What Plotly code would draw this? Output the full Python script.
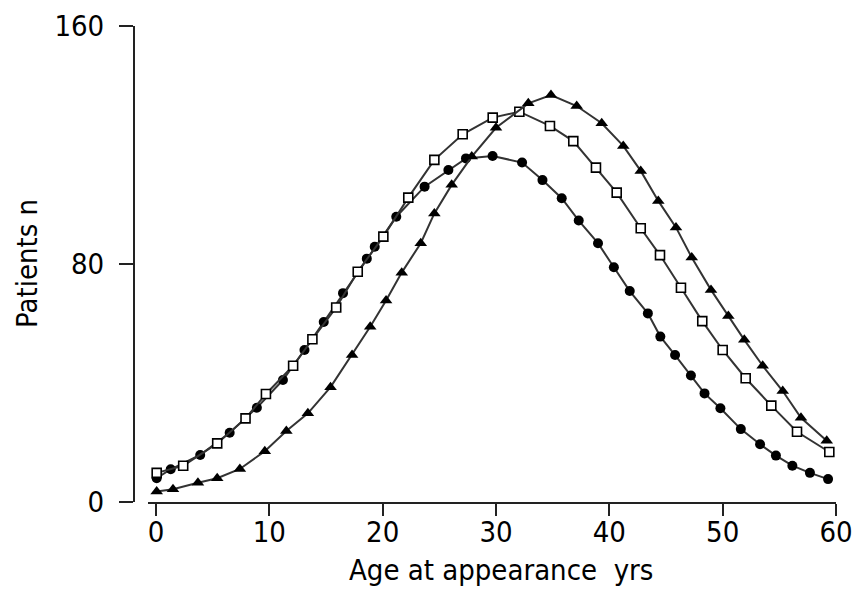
import plotly.graph_objects as go

# ---- data ----
circle_x = [0.06, 1.3, 3.9, 6.5, 8.9, 11.2, 13.1, 14.8, 16.5, 18.6, 19.3, 21.2, 23.7, 25.8, 27.35,
            29.7, 32.3, 34.1, 35.8, 37.3, 39.0, 40.4, 41.8, 43.4, 44.5, 45.8, 47.2, 48.4, 49.8,
            51.6, 53.3, 54.7, 56.15, 57.7, 59.3]
circle_y = [8.0, 11.0, 15.8, 23.3, 31.7, 41.0, 51.1, 60.5, 70.2, 81.8, 85.8, 95.9, 106.0, 111.6, 115.5,
            116.3, 114.1, 108.2, 102.1, 94.6, 87.0, 78.9, 70.9, 63.4, 55.6, 49.4, 42.5, 36.5, 31.5,
            24.5, 19.4, 15.6, 12.2, 9.8, 7.7]

square_x = [0.06, 2.4, 5.4, 7.9, 9.7, 12.1, 13.8, 15.9, 17.8, 20.06, 22.26, 24.56, 27.06, 29.71,
            32.06, 34.76, 36.82, 38.82, 40.65, 42.77, 44.47, 46.32, 48.2, 50.0, 52.03, 54.29,
            56.56, 59.41]
square_y = [9.8, 12.2, 19.7, 28.1, 36.3, 45.8, 54.7, 65.4, 77.4, 89.2, 102.3, 115.0, 123.6, 129.2,
            131.2, 126.4, 121.3, 112.4, 104.0, 92.0, 83.0, 72.0, 60.8, 51.1, 41.6, 32.4,
            23.6, 16.8]

triangle_x = [0.06, 1.5, 3.7, 5.4, 7.4, 9.6, 11.5, 13.4, 15.4, 17.3, 18.9, 20.3, 21.68, 23.36, 24.56,
              26.09, 27.86, 30.0, 32.85, 34.85, 37.12, 39.33, 41.23, 42.77, 44.32, 45.88, 47.27,
              48.97, 50.5, 51.91, 53.53, 55.3, 56.91, 59.18]
triangle_y = [3.5, 4.3, 6.5, 8.0, 11.1, 17.1, 23.9, 29.8, 38.6, 49.4, 58.9, 67.7, 77.1, 87.0, 97.0,
              106.6, 116.1, 125.8, 134.0, 136.8, 133.1, 127.3, 119.7, 111.3, 101.2, 92.3, 82.2,
              71.3, 62.5, 54.5, 45.8, 37.3, 28.3, 20.6]

x_ticks = [0, 10, 20, 30, 40, 50, 60]
y_ticks = [0, 80, 160]
x_title = "Age at appearance  yrs"
y_title = "Patients n"

FONT = "DejaVu Sans Condensed, Liberation Sans Narrow, sans-serif"
LINE = "#333333"
AX = "#222222"

fig = go.Figure()
fig.add_trace(go.Scatter(x=circle_x, y=circle_y, mode="lines+markers",
                         line=dict(color=LINE, width=2),
                         marker=dict(symbol="circle", size=10, color="black"),
                         cliponaxis=False, showlegend=False))
fig.add_trace(go.Scatter(x=square_x, y=square_y, mode="lines+markers",
                         line=dict(color=LINE, width=2),
                         marker=dict(symbol="square", size=9, color="white",
                                     line=dict(color="black", width=1.6)),
                         cliponaxis=False, showlegend=False))
fig.add_trace(go.Scatter(x=triangle_x, y=triangle_y, mode="lines+markers",
                         line=dict(color=LINE, width=2),
                         marker=dict(symbol="triangle-up", size=11, color="black"),
                         cliponaxis=False, showlegend=False))

fig.update_layout(
    width=856, height=597,
    margin=dict(l=100, r=20, t=26, b=95, autoexpand=False),
    paper_bgcolor="white", plot_bgcolor="white",
    font=dict(family=FONT, size=29, color="black"),
    xaxis=dict(domain=[48 / 736, 1], range=[-0.706, 60], tickvals=x_ticks,
               ticks="outside", ticklen=12, tickwidth=2, tickcolor=AX,
               showline=True, linecolor=AX, linewidth=2, automargin=False,
               showgrid=False, zeroline=False, anchor="y", ticklabelstandoff=-9,
               tickfont=dict(family=FONT, size=29)),
    yaxis=dict(range=[0, 160], tickvals=y_ticks, anchor="free", position=34 / 736,
               ticks="outside", ticklen=14, tickwidth=2, tickcolor=AX,
               showline=True, linecolor=AX, linewidth=2, automargin=False,
               showgrid=False, zeroline=False, ticklabelstandoff=9,
               tickfont=dict(family=FONT, size=29)),
    annotations=[
        dict(text=x_title, xref="paper", yref="paper", x=(501 - 100) / 736, y=-(570 - 502) / 476,
             xanchor="center", yanchor="middle", showarrow=False,
             font=dict(family=FONT, size=29)),
        dict(text=y_title, xref="paper", yref="paper", x=-(100 - 27) / 736, y=(502 - 264) / 476,
             xanchor="center", yanchor="middle", textangle=-90, showarrow=False,
             font=dict(family=FONT, size=29)),
    ],
)

fig.write_html("out.html")
